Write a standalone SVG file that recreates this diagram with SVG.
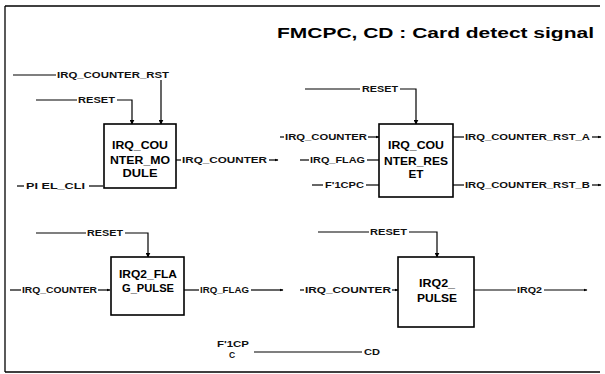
<svg xmlns="http://www.w3.org/2000/svg" width="605" height="374" viewBox="0 0 605 374">
<style>
.box{fill:#fff;stroke:#000;stroke-width:1.6}
.bt{font-family:"Liberation Sans",Arial,sans-serif;font-weight:bold;font-size:10px;fill:#000;text-anchor:middle}
.lb{font-family:"Liberation Sans",Arial,sans-serif;font-weight:bold;font-size:8.5px;fill:#111}
.ln{fill:none;stroke:#000;stroke-width:1.2}
.ttl{font-family:"Liberation Sans",Arial,sans-serif;font-weight:bold;font-size:14px;fill:#000}
</style>
<defs>
<marker id="ah" viewBox="0 0 8 8" refX="7" refY="4" markerWidth="5" markerHeight="5" orient="auto" markerUnits="userSpaceOnUse">
<path d="M0,0 L8,4 L0,8 z" fill="#000"/>
</marker>
<marker id="sm" viewBox="0 0 8 8" refX="7" refY="4" markerWidth="4" markerHeight="4" orient="auto" markerUnits="userSpaceOnUse">
<path d="M0,1 L8,4 L0,7 z" fill="#000"/>
</marker>
</defs>
<rect width="605" height="374" fill="#fff"/>
<g id="frame" fill="none" stroke="#000" stroke-width="1.3">
<path d="M5,6 H600"/>
<path d="M5,6 V372"/>
<path d="M5,372 H600"/>
</g>
<text class="ttl" x="277" y="38" textLength="317" lengthAdjust="spacingAndGlyphs">FMCPC, CD : Card detect signal</text>

<g id="connectors">
<path class="ln" d="M13,75 H56"/>
<text class="lb" x="57" y="78" textLength="112" lengthAdjust="spacingAndGlyphs">IRQ_COUNTER_RST</text>
<path class="ln" d="M161,80 V124" marker-end="url(#ah)"/>
<path class="ln" d="M36,100 H77"/>
<text class="lb" x="78" y="103" textLength="37" lengthAdjust="spacingAndGlyphs">RESET</text>
<path class="ln" d="M117,100 H132 V124" marker-end="url(#ah)"/>
<path class="ln" d="M176,160 H181"/>
<text class="lb" x="182" y="163" textLength="85" lengthAdjust="spacingAndGlyphs">IRQ_COUNTER</text>
<path class="ln" d="M269,160 H278" marker-end="url(#sm)"/>
<path class="ln" d="M17,186 H24"/>
<text class="lb" x="26" y="189" textLength="59" lengthAdjust="spacingAndGlyphs">PI EL_CLI</text>
<path class="ln" d="M89,186 H103"/>
<path class="ln" d="M305,89 H360"/>
<text class="lb" x="362" y="92" textLength="36" lengthAdjust="spacingAndGlyphs">RESET</text>
<path class="ln" d="M400,89 H416 V124" marker-end="url(#ah)"/>
<path class="ln" d="M280,137 H284"/>
<text class="lb" x="285" y="140" textLength="82" lengthAdjust="spacingAndGlyphs">IRQ_COUNTER</text>
<path class="ln" d="M368,137 H379" marker-end="url(#sm)"/>
<path class="ln" d="M300,160 H309"/>
<text class="lb" x="310" y="163" textLength="55" lengthAdjust="spacingAndGlyphs">IRQ_FLAG</text>
<path class="ln" d="M367,160 H379"/>
<path class="ln" d="M312,185 H323"/>
<text class="lb" x="325" y="188" textLength="39" lengthAdjust="spacingAndGlyphs">F'1CPC</text>
<path class="ln" d="M366,185 H379"/>
<path class="ln" d="M453,137 H464"/>
<text class="lb" x="465" y="140" textLength="125" lengthAdjust="spacingAndGlyphs">IRQ_COUNTER_RST_A</text>
<path class="ln" d="M592,137 H601" marker-end="url(#sm)"/>
<path class="ln" d="M453,185 H464"/>
<text class="lb" x="465" y="188" textLength="125" lengthAdjust="spacingAndGlyphs">IRQ_COUNTER_RST_B</text>
<path class="ln" d="M592,185 H601" marker-end="url(#sm)"/>
<path class="ln" d="M36,233 H86"/>
<text class="lb" x="87" y="236" textLength="36" lengthAdjust="spacingAndGlyphs">RESET</text>
<path class="ln" d="M125,233 H148 V257" marker-end="url(#ah)"/>
<path class="ln" d="M10,290 H21"/>
<text class="lb" x="22" y="293" textLength="75" lengthAdjust="spacingAndGlyphs">IRQ_COUNTER</text>
<path class="ln" d="M98,290 H110" marker-end="url(#sm)"/>
<path class="ln" d="M184,290 H199"/>
<text class="lb" x="200" y="293" textLength="49" lengthAdjust="spacingAndGlyphs">IRQ_FLAG</text>
<path class="ln" d="M251,290 H283" marker-end="url(#sm)"/>
<path class="ln" d="M318,232 H369"/>
<text class="lb" x="370" y="235" textLength="37" lengthAdjust="spacingAndGlyphs">RESET</text>
<path class="ln" d="M409,232 H437 V257" marker-end="url(#ah)"/>
<path class="ln" d="M300,290 H304"/>
<text class="lb" x="305" y="293" textLength="86" lengthAdjust="spacingAndGlyphs">IRQ_COUNTER</text>
<path class="ln" d="M392,290 H398" marker-end="url(#sm)"/>
<path class="ln" d="M474,290 H516"/>
<text class="lb" x="517" y="293" textLength="25" lengthAdjust="spacingAndGlyphs">IRQ2</text>
<path class="ln" d="M544,290 H587" marker-end="url(#sm)"/>
<text class="lb" x="217" y="347" textLength="32" lengthAdjust="spacingAndGlyphs">F'1CP</text>
<text class="lb" x="229" y="358">C</text>
<path class="ln" d="M254,352 H362"/>
<text class="lb" x="364" y="355" textLength="16" lengthAdjust="spacingAndGlyphs">CD</text>
</g>

<g id="irq_counter_module">
<rect class="box" x="104" y="124" width="72" height="64"/>
<text class="bt" x="140" y="149" textLength="56" lengthAdjust="spacingAndGlyphs">IRQ_COU</text>
<text class="bt" x="140" y="164" textLength="60" lengthAdjust="spacingAndGlyphs">NTER_MO</text>
<text class="bt" x="140" y="177" textLength="35" lengthAdjust="spacingAndGlyphs">DULE</text>
</g>
<g id="irq_counter_reset">
<rect class="box" x="379" y="124" width="74" height="73"/>
<text class="bt" x="416" y="149" textLength="56" lengthAdjust="spacingAndGlyphs">IRQ_COU</text>
<text class="bt" x="416" y="165" textLength="64" lengthAdjust="spacingAndGlyphs">NTER_RES</text>
<text class="bt" x="416" y="178" textLength="15" lengthAdjust="spacingAndGlyphs">ET</text>
</g>
<g id="irq2_flag_pulse">
<rect class="box" x="111" y="257" width="73" height="58"/>
<text class="bt" x="148" y="278" textLength="58" lengthAdjust="spacingAndGlyphs">IRQ2_FLA</text>
<text class="bt" x="148" y="292" textLength="52" lengthAdjust="spacingAndGlyphs">G_PULSE</text>
</g>
<g id="irq2_pulse">
<rect class="box" x="398" y="257" width="76" height="70"/>
<text class="bt" x="437" y="287" textLength="36" lengthAdjust="spacingAndGlyphs">IRQ2_</text>
<text class="bt" x="437" y="302" textLength="40" lengthAdjust="spacingAndGlyphs">PULSE</text>
</g>
</svg>
